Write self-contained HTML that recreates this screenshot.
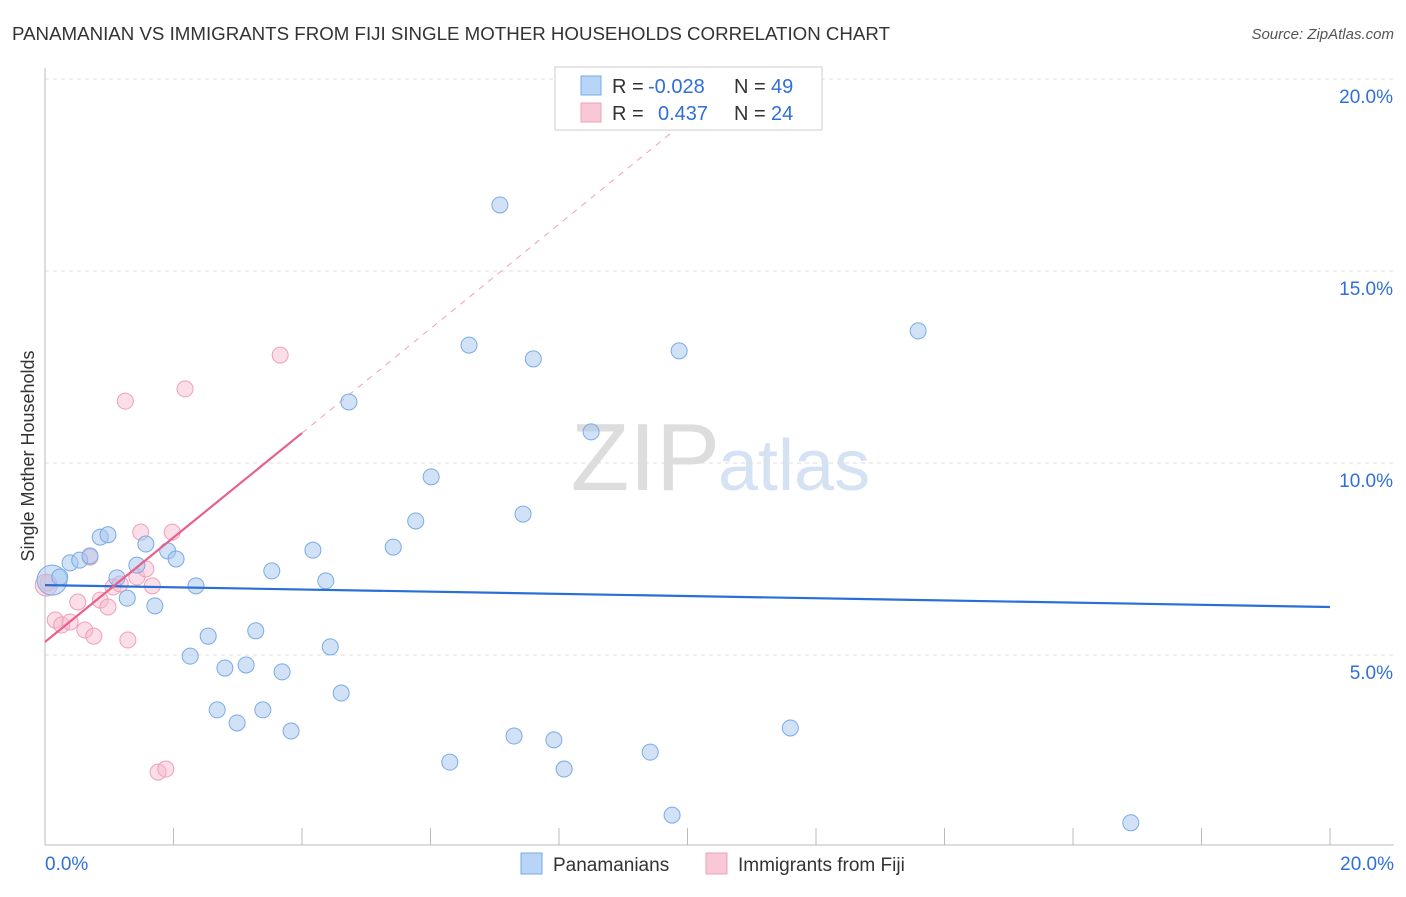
<!DOCTYPE html>
<html><head><meta charset="utf-8">
<style>
body{margin:0;background:#fff;font-family:"Liberation Sans",sans-serif;}
svg text{font-family:"Liberation Sans",sans-serif;}
</style></head>
<body>
<svg id="chart" width="1406" height="892" xmlns="http://www.w3.org/2000/svg">
<text x="12" y="40" font-size="18" fill="#333" textLength="878" lengthAdjust="spacingAndGlyphs">PANAMANIAN VS IMMIGRANTS FROM FIJI SINGLE MOTHER HOUSEHOLDS CORRELATION CHART</text>
<text x="1394" y="39" font-size="15" fill="#555" text-anchor="end" font-style="italic">Source: ZipAtlas.com</text>
<text x="0" y="0" transform="translate(34,456) rotate(-90)" font-size="18" fill="#333" text-anchor="middle">Single Mother Households</text>
<text x="720" y="490" font-size="96" fill="#ddd" text-anchor="end" font-family="Liberation Serif">ZIP</text>
<text x="718" y="490" font-size="72" fill="#d4e2f4">atlas</text>
<g id="grid"></g><g id="axes"></g><g id="trends"></g><g id="points"></g>
<g>
<rect x="555" y="67" width="267" height="63" fill="#fff" stroke="#ccc"/>
<rect x="581" y="76" width="20" height="19" fill="#b8d4f6" stroke="#7aaae6"/>
<rect x="581" y="103" width="20" height="19" fill="#f9c8d6" stroke="#f0a0b8"/>
<text x="612" y="93" font-size="20" fill="#333">R =</text>
<text x="648" y="93" font-size="20" fill="#2f6fd6">-0.028</text>
<text x="734" y="93" font-size="20" fill="#333">N =</text>
<text x="771" y="93" font-size="20" fill="#2f6fd6">49</text>
<text x="612" y="120" font-size="20" fill="#333">R =</text>
<text x="658" y="120" font-size="20" fill="#2f6fd6">0.437</text>
<text x="734" y="120" font-size="20" fill="#333">N =</text>
<text x="771" y="120" font-size="20" fill="#2f6fd6">24</text>
</g>
<g>
<rect x="521" y="853" width="21" height="21" fill="#b8d4f6" stroke="#7aaae6"/>
<text x="553" y="871" font-size="19" fill="#333">Panamanians</text>
<rect x="706" y="853" width="21" height="21" fill="#f9c8d6" stroke="#f0a0b8"/>
<text x="738" y="871" font-size="19" fill="#333">Immigrants from Fiji</text>
</g>
</svg>
<script>
const yTicks=[5,10,15,20];
const yTickLabels=["5.0%","10.0%","15.0%","20.0%"];
const xTicks=[0,2,4,6,8,10,12,14,16,18,20];
const blueX=[0.11,0.23,0.39,0.54,0.70,0.86,0.98,1.12,1.28,1.43,1.57,1.71,1.91,2.04,2.35,2.26,2.54,2.68,2.80,2.99,3.13,3.28,3.39,3.53,3.69,3.83,4.17,4.37,4.44,4.61,4.73,5.42,5.77,6.01,6.30,6.60,7.08,7.30,7.44,7.60,7.92,8.08,8.50,9.42,9.76,9.87,11.60,13.59,16.90];
const blueY=[6.95,7.03,7.40,7.47,7.58,8.07,8.13,7.01,6.48,7.34,7.89,6.28,7.71,7.50,6.80,4.97,5.49,3.57,4.66,3.23,4.74,5.63,3.57,7.19,4.56,3.02,7.73,6.93,5.21,4.01,11.59,7.81,8.49,9.64,2.21,13.07,16.72,2.89,8.67,12.71,2.79,2.03,10.81,2.47,0.83,12.92,3.10,13.44,0.63];
const pinkX=[0.05,0.16,0.26,0.39,0.51,0.62,0.76,0.70,0.86,0.98,1.06,1.17,1.25,1.29,1.43,1.49,1.57,1.67,1.76,1.88,1.98,2.18,3.66,0.02];
const pinkY=[6.88,5.91,5.78,5.86,6.38,5.65,5.49,7.55,6.43,6.25,6.77,6.85,11.61,5.39,7.03,8.20,7.24,6.80,1.95,2.03,8.20,11.93,12.81,6.82];
const blueTrend=[6.82,6.25];
const pinkTrend=[5.34,10.78];
const NS="http://www.w3.org/2000/svg";
const sx=v=>45+v*64.25, sy=v=>847-v*38.4;
function mk(tag,attrs,parent){const e=document.createElementNS(NS,tag);for(const k in attrs)e.setAttribute(k,attrs[k]);parent.appendChild(e);return e;}
const grid=document.getElementById('grid'),axes=document.getElementById('axes'),tr=document.getElementById('trends'),pts=document.getElementById('points');
yTicks.forEach((t,i)=>{
 const l=mk('line',{x1:45,x2:1394,y1:sy(t),y2:sy(t),stroke:'#ddd','stroke-dasharray':'4,4'},grid);
 
 
 const tx=mk('text',{x:1393,y:sy(t)+24,'font-size':19,fill:'#2f6fd6','text-anchor':'end'},axes);
 tx.textContent=yTickLabels[i];
 
 
});
const ax=mk('line',{x1:45,x2:1394,y1:845,y2:845,stroke:'#bbb'},axes);


const ay=mk('line',{x1:45,x2:45,y1:68,y2:845,stroke:'#bbb'},axes);


xTicks.forEach(t=>{
 const l=mk('line',{x1:sx(t),x2:sx(t),y1:828,y2:845,stroke:'#bbb'},axes);
 
 
});
const x0=mk('text',{x:45,y:870,'font-size':19,fill:'#2f6fd6'},axes);x0.textContent='0.0%';


const x1=mk('text',{x:1394,y:870,'font-size':19,fill:'#2f6fd6','text-anchor':'end'},axes);x1.textContent='20.0%';


const pslope=(pinkTrend[1]-pinkTrend[0])/4;
const pxEnd=(20-pinkTrend[0])/pslope;
const pd=mk('line',{x1:sx(4),y1:sy(pinkTrend[1]),x2:sx(pxEnd),y2:sy(20),stroke:'#f0a0b8','stroke-dasharray':'6,6','stroke-width':1},tr);


pinkX.forEach((x,i)=>{const c=mk('circle',{cx:sx(x),cy:sy(pinkY[i]),r:i==23?11:8,fill:'rgba(246,182,202,0.45)',stroke:'#f0a0b8','stroke-width':1},pts);
 
 });
blueX.forEach((x,i)=>{const c=mk('circle',{cx:sx(x),cy:sy(blueY[i]),r:i==0?15:8,fill:'rgba(164,198,240,0.5)',stroke:'#7aaae6','stroke-width':1},pts);
 
 });
const bl=mk('line',{x1:sx(0),y1:sy(blueTrend[0]),x2:sx(20),y2:sy(blueTrend[1]),stroke:'#2a6fd6','stroke-width':2.2},pts);


const pl=mk('line',{x1:sx(0),y1:sy(pinkTrend[0]),x2:sx(4),y2:sy(pinkTrend[1]),stroke:'#e8608c','stroke-width':2.2},pts);


</script>
</body></html>
